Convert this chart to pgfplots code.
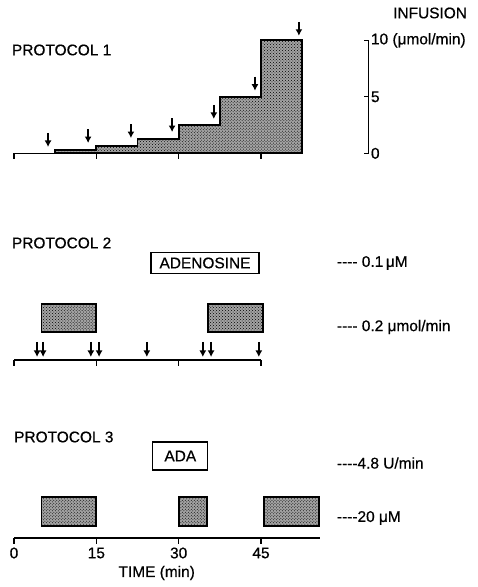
\documentclass[border=0pt]{standalone}
\usepackage{pgfplots}
\pgfplotsset{compat=1.18}
\usepackage{pgfplotstable}
\usepackage{fontspec}
\setmainfont[FakeBold=0.6]{Liberation Sans}
\usetikzlibrary{arrows.meta,patterns}

\newcommand\lbl{\fontsize{15.5}{18}\selectfont}

% infusion rate (umol/min) of protocol 1, constant from each time on
\pgfplotstableread{
t rate
7.5 0.3125
15 0.625
22.5 1.25
30 2.5
37.5 5
45 10
52.5 10
}\infusion

% sampling arrows of protocol 1 (tail height and length in rate units)
\pgfplotstableread{
t y v
6.2 1.80 -1.24
13.5 2.15 -1.24
21.3 2.59 -1.24
28.8 3.12 -1.24
36.4 4.28 -1.24
43.9 6.78 -1.24
51.9 11.64 -1.24
}\arrowsA

% sampling arrows of protocol 2
\pgfplotstableread{
t y v
4.2 245 -15
5.3 245 -15
14.0 245 -15
15.5 245 -15
24.2 245 -15
34.4 245 -15
35.9 245 -15
44.6 245 -15
}\arrowsB

\tikzset{
  stipple/.style={fill=black!36, postaction={pattern=crosshatch dots}},
  sample/.style={line width=1.8bp, -{Latex[length=6.5bp,width=7bp]}},
}
\pgfplotsset{
  panel/.style={scale only axis, width=478bp, height=587bp,
    xmin=-2.551, xmax=84.53, hide axis, clip=false,
    at={(0,0)}, anchor=south west},
  tickmark/.style={black, line width=1.2bp, quiver={u=0, v=#1}},
}

\begin{document}
\begin{tikzpicture}
\useasboundingbox (0,0) rectangle (478bp,587bp);

% ---------- protocol 1: stepwise infusion ----------
\begin{axis}[panel, ymin=-38.38, ymax=13.57]
  \addplot[const plot, draw=black, line width=1.7bp, stipple]
    table[x=t, y=rate] {\infusion} \closedcycle;
  % time line with ticks at 0, 15, 30, 45 min
  \addplot[black, line width=1.2bp] coordinates {(0,0) (52.5,0)};
  \addplot[tickmark=-0.5] coordinates {(0,0) (15,0) (30,0) (45,0)};
  \addplot[black, sample, quiver={u=0, v=\thisrow{v}}]
    table[x=t, y=y] {\arrowsA};
  % infusion rate scale
  \draw[line width=1.1bp] (axis cs:63.8,10) -- (axis cs:64.5,10) -- (axis cs:64.5,0) -- (axis cs:63.8,0);
  \draw[line width=1.1bp] (axis cs:63.8,5) -- (axis cs:64.5,5);
  \node[font=\lbl, anchor=west, inner sep=0] at (axis cs:65,10) {10 (μmol/min)};
  \node[font=\lbl, anchor=west, inner sep=0] at (axis cs:65,5) {5};
  \node[font=\lbl, anchor=west, inner sep=0] at (axis cs:65,0) {0};
\end{axis}

% ---------- protocols 2 and 3 ----------
\begin{axis}[panel, ymin=0, ymax=587]
  \node[font=\lbl, anchor=west, inner sep=0] at (axis cs:-0.4,537) {PROTOCOL 1};
  \node[font=\lbl] at (axis cs:75.8,574) {INFUSION};

  % protocol 2
  \node[font=\lbl, anchor=west, inner sep=0] at (axis cs:-0.4,344) {PROTOCOL 2};
  \node[font=\lbl, draw, line width=1.1bp, fill=white, minimum width=108bp,
        minimum height=21bp, inner sep=0] at (axis cs:34.8,324) {ADENOSINE};
  \node[font=\lbl, anchor=west, inner sep=0] at (axis cs:58.8,324) {-{}-{}-{}- 0.1\,μM};
  \node[font=\lbl, anchor=west, inner sep=0] at (axis cs:58.8,260) {-{}-{}-{}- 0.2 μmol/min};
  \addplot[draw=black, line width=1.8bp, stipple]
    coordinates {(5,255) (15,255) (15,283) (5,283)} -- cycle;
  \addplot[draw=black, line width=1.8bp, stipple]
    coordinates {(35.3,255) (45.3,255) (45.3,283) (35.3,283)} -- cycle;
  \addplot[black, line width=1.2bp] coordinates {(0,227) (45,227)};
  \addplot[tickmark=-6] coordinates {(0,227) (15,227) (30,227) (45,227)};
  \addplot[black, sample, quiver={u=0, v=\thisrow{v}}]
    table[x=t, y=y] {\arrowsB};

  % protocol 3
  \node[font=\lbl, anchor=west, inner sep=0] at (axis cs:0,150) {PROTOCOL 3};
  \node[font=\lbl, draw, line width=1.1bp, fill=white, minimum width=55bp,
        minimum height=28bp, inner sep=0] at (axis cs:30.3,131) {ADA};
  \node[font=\lbl, anchor=west, inner sep=0] at (axis cs:58.8,124) {-{}-{}-{}-4.8 U/min};
  \node[font=\lbl, anchor=west, inner sep=0] at (axis cs:58.8,69) {-{}-{}-{}-20 μM};
  \addplot[draw=black, line width=1.8bp, stipple]
    coordinates {(5,61) (15,61) (15,90) (5,90)} -- cycle;
  \addplot[draw=black, line width=1.8bp, stipple]
    coordinates {(30,61) (35.2,61) (35.2,90) (30,90)} -- cycle;
  \addplot[draw=black, line width=1.8bp, stipple]
    coordinates {(45.5,61) (55.5,61) (55.5,90) (45.5,90)} -- cycle;
  \addplot[black, line width=1.2bp] coordinates {(0,49) (55.8,49)};
  \addplot[tickmark=-6] coordinates {(0,49) (15,49) (30,49) (45,49)};
  \foreach \t in {0,15,30,45} {
    \edef\temp{\noexpand\node[font=\noexpand\lbl] at (axis cs:\t,34) {\t};}
    \temp
  }
  \node[font=\lbl] at (axis cs:26,14) {TIME (min)};
\end{axis}
\end{tikzpicture}
\end{document}
